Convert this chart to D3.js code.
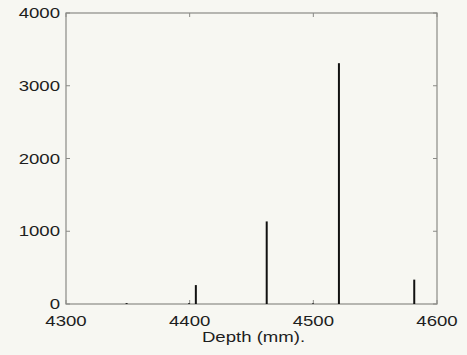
<!DOCTYPE html>
<html>
<head>
<meta charset="utf-8">
<script src="https://cdn.jsdelivr.net/npm/d3@7"></script>
<style>
  html, body { margin: 0; padding: 0; background: #f7f7f2; }
  svg { display: block; }
</style>
</head>
<body>
<script>
// Hit counts per depth (stem plot)
const depths = [4349, 4399.5, 4405, 4462.3, 4499.7, 4520.7, 4581.6];
const counts = [12, 10, 260, 1135, 8, 3310, 335];
const xTicks = [4300, 4400, 4500, 4600];
const yTicks = [0, 1000, 2000, 3000, 4000];
const xLabel = "Depth (mm).";

const W = 467, H = 355;
const m = { left: 66, right: 30, top: 13, bottom: 51 };

const svg = d3.select("body").append("svg").attr("width", W).attr("height", H);
svg.append("rect").attr("width", W).attr("height", H).attr("fill", "#f7f7f2");

const x = d3.scaleLinear().domain([4300, 4600]).range([m.left, W - m.right]);
const y = d3.scaleLinear().domain([0, 4000]).range([H - m.bottom, m.top]);

const axisColor = "#8a8a86";
const textColor = "#1e1e1e";
const font = "'Liberation Sans', Arial, sans-serif";
const stretch = 1.24;

// plot frame
svg.append("rect")
  .attr("x", x(4300)).attr("y", y(4000))
  .attr("width", x(4600) - x(4300)).attr("height", y(0) - y(4000))
  .attr("fill", "none").attr("stroke", axisColor).attr("stroke-width", 1.2);

// inward ticks on all four sides
const tl = 4;
const g = svg.append("g").attr("stroke", axisColor).attr("stroke-width", 1);
yTicks.forEach(v => {
  g.append("line").attr("x1", x(4300)).attr("x2", x(4300) + tl).attr("y1", y(v)).attr("y2", y(v));
  g.append("line").attr("x1", x(4600)).attr("x2", x(4600) - tl).attr("y1", y(v)).attr("y2", y(v));
});
xTicks.forEach(v => {
  g.append("line").attr("x1", x(v)).attr("x2", x(v)).attr("y1", y(0)).attr("y2", y(0) - tl);
  g.append("line").attr("x1", x(v)).attr("x2", x(v)).attr("y1", y(4000)).attr("y2", y(4000) + tl);
});

// stems
svg.append("g").selectAll("line").data(depths).join("line")
  .attr("x1", d => x(d)).attr("x2", d => x(d))
  .attr("y1", y(0)).attr("y2", (d, i) => y(counts[i]))
  .attr("stroke", "#111").attr("stroke-width", 2);

// tick labels (horizontally widened glyphs)
function label(txt, px, py, anchor) {
  svg.append("text")
    .attr("transform", `translate(${px},${py}) scale(${stretch},1)`)
    .attr("text-anchor", anchor)
    .attr("font-family", font).attr("font-size", 15)
    .attr("fill", textColor)
    .text(txt);
}
yTicks.forEach(v => label(String(v), x(4300) - 6, y(v) + 5, "end"));
xTicks.forEach(v => label(String(v), x(v), y(0) + 22, "middle"));
label(xLabel, (x(4300) + x(4600)) / 2 + 2, y(0) + 38, "middle");
</script>
</body>
</html>
